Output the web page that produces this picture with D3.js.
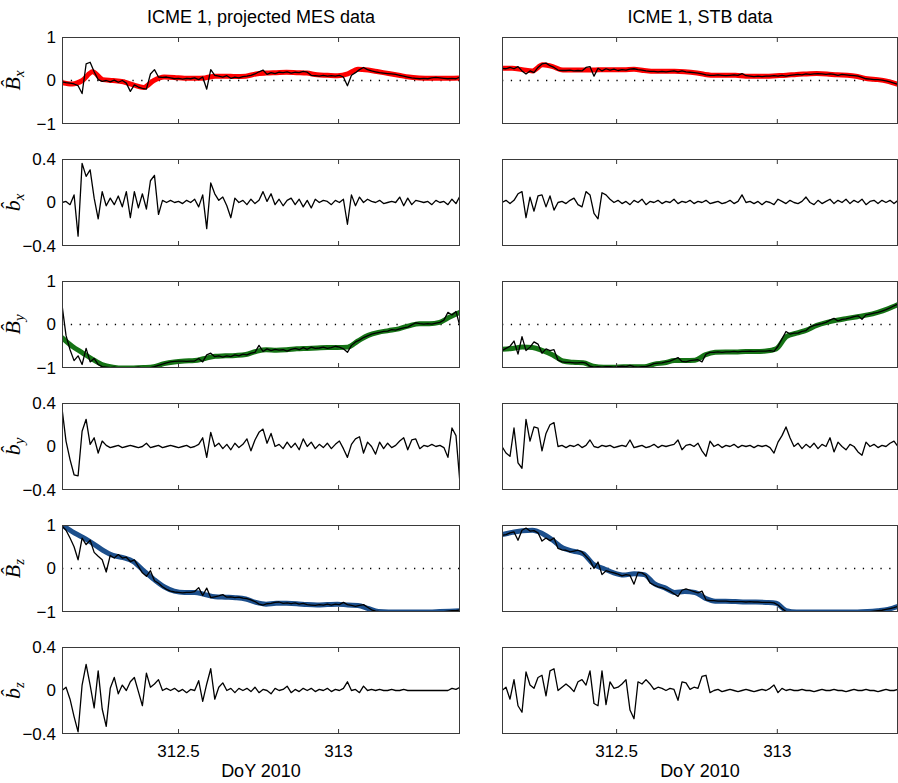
<!DOCTYPE html>
<html><head><meta charset="utf-8">
<script src="https://cdn.jsdelivr.net/npm/d3@7"></script>
<style>body{margin:0;background:#fff}svg{display:block}</style>
</head><body><svg id="c" width="898" height="783"></svg>
<script>
// ---------------- DATA ----------------
const columnTitles = ["ICME 1, projected MES data", "ICME 1, STB data"];
const xLabel = "DoY 2010";
const mesDomain = [312.1375, 313.381];
const stbDomain = [312.145, 313.377];
const xTicks = [312.5, 313];
const xTickLabels = ["312.5", "313"];
const bigTicks = [-1, 0, 1];
const bigTickLabels = ["\u22121", "0", "1"];
const smallTicks = [-0.4, 0, 0.4];
const smallTickLabels = ["\u22120.4", "0", "0.4"];
const rowSymbols = ["B","b","B","b","B","b"];
const rowSubs = ["x","x","y","y","z","z"];

const mesBx = [-0.03,-0.05,-0.06,-0.08,-0.12,-0.3,0.38,0.42,0.2,0.02,
-0.02,0.0,-0.03,0.01,-0.04,0.0,-0.06,-0.25,-0.1,-0.15,
-0.18,-0.2,0.15,0.25,0.08,0.07,0.08,0.06,0.04,0.05,
0.03,0.05,0.04,0.06,0.02,0.08,-0.2,0.25,0.12,0.1,
0.08,0.11,0.05,0.08,0.06,0.09,0.1,0.12,0.15,0.2,
0.24,0.14,0.18,0.16,0.19,0.18,0.2,0.17,0.19,0.18,
0.21,0.19,0.12,0.11,0.1,0.12,0.1,0.11,0.1,0.12,
0.08,-0.12,0.12,0.18,0.25,0.3,0.25,0.22,0.2,0.18,
0.17,0.16,0.15,0.14,0.12,0.1,0.08,0.06,0.05,0.04,
0.05,0.04,0.06,0.07,0.06,0.05,0.04,0.05,0.04,0.08];
const mesBxFit = [-0.05,-0.08,0.0,0.2,0.02,0.0,-0.03,-0.1,-0.16,0.0,
0.08,0.07,0.05,0.05,0.06,0.1,0.1,0.09,0.1,0.15,
0.17,0.18,0.19,0.18,0.17,0.13,0.12,0.11,0.15,0.26,
0.24,0.2,0.16,0.12,0.08,0.06,0.05,0.05,0.05,0.06];
const mesbx = [0.0,0.01,-0.02,0.07,-0.31,0.36,0.24,0.3,0.04,-0.15,
0.1,-0.03,0.04,-0.02,0.06,-0.04,0.1,-0.14,0.1,-0.05,
0.08,-0.06,0.2,0.25,-0.11,0.02,0.0,0.02,0.0,0.01,
-0.01,0.02,0.0,0.03,-0.04,0.07,-0.24,0.18,0.08,0.02,
0.05,-0.03,-0.14,0.04,0.0,0.02,-0.02,0.03,-0.01,0.02,
0.1,0.01,0.08,-0.02,0.03,-0.03,0.02,0.04,-0.02,0.03,
-0.04,0.02,-0.05,0.03,0.0,0.02,0.01,-0.02,0.02,0.0,
0.03,-0.2,0.07,-0.03,0.05,0.0,0.03,0.01,0.0,0.02,
-0.01,0.0,0.01,0.0,0.05,-0.03,0.04,-0.02,0.02,0.01,
0.0,0.01,-0.02,0.02,0.0,0.01,-0.02,0.03,-0.01,0.06];
const mesBy = [0.45,-0.25,-0.58,-0.83,-0.72,-0.92,-0.55,-0.86,-0.78,-0.92,
-0.97,-0.98,-0.99,-0.98,-1.0,-0.99,-0.99,-1.0,-0.99,-0.98,
-1.0,-0.99,-0.99,-0.97,-0.94,-0.91,-0.88,-0.86,-0.85,-0.84,
-0.84,-0.85,-0.84,-0.84,-0.78,-0.86,-0.7,-0.66,-0.74,-0.72,
-0.75,-0.72,-0.74,-0.7,-0.72,-0.68,-0.7,-0.66,-0.64,-0.48,
-0.62,-0.56,-0.6,-0.57,-0.59,-0.58,-0.61,-0.57,-0.55,-0.58,
-0.53,-0.57,-0.52,-0.55,-0.54,-0.52,-0.55,-0.53,-0.5,-0.52,
-0.56,-0.64,-0.48,-0.4,-0.36,-0.3,-0.26,-0.22,-0.2,-0.18,
-0.16,-0.15,-0.12,-0.13,-0.1,-0.08,-0.06,-0.01,0.04,0.02,
0.01,0.02,0.01,0.03,0.05,0.1,0.28,0.22,0.3,-0.05];
const mesByFit = [-0.3,-0.5,-0.65,-0.8,-0.93,-0.98,-1.0,-1.0,-0.99,-0.97,
-0.9,-0.86,-0.84,-0.83,-0.78,-0.73,-0.72,-0.71,-0.69,-0.62,
-0.58,-0.59,-0.58,-0.56,-0.55,-0.54,-0.53,-0.53,-0.52,-0.38,
-0.25,-0.18,-0.14,-0.1,-0.03,0.02,0.02,0.05,0.17,0.28];
const mesby = [0.35,0.05,-0.12,-0.26,-0.27,0.14,0.25,0.02,0.08,-0.06,
0.05,0.01,-0.01,0.0,0.01,-0.01,0.0,0.01,0.0,-0.01,
0.0,0.03,-0.01,0.0,0.01,-0.01,0.0,0.01,0.0,-0.01,
0.0,0.01,-0.01,0.0,0.02,0.08,-0.1,0.13,0.0,0.03,
-0.02,0.02,-0.03,0.03,-0.01,0.02,0.07,-0.04,0.06,0.13,
0.16,0.03,0.12,0.0,0.02,-0.02,0.04,-0.01,0.03,-0.03,
0.07,0.0,0.04,-0.02,0.02,-0.01,0.03,-0.02,0.02,0.05,
-0.02,-0.1,0.02,0.07,0.09,-0.06,0.04,0.0,-0.07,0.04,
-0.02,0.03,-0.01,0.01,0.05,0.08,-0.03,0.06,0.07,-0.02,
0.01,0.0,0.02,0.0,0.01,-0.01,-0.1,0.17,0.1,-0.34];
const mesBz = [0.98,0.88,0.7,0.5,0.2,0.7,0.55,0.65,0.37,0.28,
0.2,-0.08,0.3,0.24,0.32,0.24,0.26,0.16,0.2,0.05,
-0.1,-0.18,-0.05,-0.28,-0.34,-0.42,-0.48,-0.52,-0.54,-0.55,
-0.56,-0.55,-0.55,-0.53,-0.44,-0.62,-0.45,-0.67,-0.65,-0.63,
-0.6,-0.66,-0.65,-0.67,-0.66,-0.68,-0.69,-0.72,-0.76,-0.82,
-0.84,-0.81,-0.8,-0.78,-0.77,-0.8,-0.79,-0.81,-0.79,-0.82,
-0.8,-0.83,-0.84,-0.85,-0.83,-0.84,-0.82,-0.84,-0.82,-0.83,
-0.78,-0.83,-0.85,-0.87,-0.85,-0.83,-0.89,-0.95,-0.98,-0.99,
-1.0,-0.99,-1.0,-1.0,-0.99,-1.0,-1.0,-0.99,-1.0,-1.0,
-0.99,-1.0,-1.0,-0.99,-1.0,-0.99,-0.98,-0.97,-0.97,-0.95];
const mesBzFit = [1.0,0.85,0.72,0.58,0.42,0.3,0.25,0.16,-0.05,-0.25,
-0.42,-0.52,-0.55,-0.55,-0.6,-0.65,-0.66,-0.67,-0.7,-0.78,
-0.82,-0.8,-0.8,-0.81,-0.83,-0.84,-0.83,-0.82,-0.84,-0.85,
-0.92,-0.99,-1.0,-1.0,-1.0,-1.0,-1.0,-0.99,-0.98,-0.97];
const mesbz = [0.0,0.03,-0.08,-0.24,-0.38,0.05,0.24,0.05,-0.16,0.18,
-0.17,-0.33,0.02,0.12,-0.03,0.05,0.0,0.08,0.12,-0.01,
-0.14,0.16,0.03,0.06,0.1,0.0,0.02,0.0,0.02,-0.01,
0.01,-0.02,0.01,0.0,0.09,-0.1,0.06,0.2,-0.08,0.03,
0.07,0.0,0.02,-0.02,0.02,0.0,0.02,-0.01,0.03,-0.02,
0.01,0.0,-0.03,0.02,0.0,0.01,0.04,-0.02,0.01,-0.01,
0.02,0.0,0.02,-0.01,0.01,0.0,0.02,-0.01,0.01,0.0,
0.02,0.08,0.0,0.01,-0.02,0.04,0.0,0.01,0.0,0.01,
0.0,0.0,0.01,0.0,0.0,0.01,0.0,0.0,0.0,0.0,
0.0,0.0,0.0,0.0,0.0,0.0,0.0,0.02,0.01,0.03];

const stbBx = [0.28,0.27,0.3,0.27,0.32,0.22,0.15,0.22,0.18,0.3,
0.38,0.4,0.34,0.3,0.24,0.23,0.23,0.24,0.22,0.23,
0.22,0.3,0.32,0.1,0.28,0.22,0.27,0.24,0.26,0.23,
0.25,0.24,0.26,0.27,0.25,0.24,0.22,0.21,0.21,0.2,
0.21,0.2,0.21,0.22,0.2,0.22,0.2,0.19,0.18,0.17,
0.15,0.13,0.12,0.12,0.13,0.12,0.11,0.12,0.13,0.12,
0.16,0.11,0.1,0.09,0.1,0.09,0.1,0.1,0.11,0.1,
0.12,0.1,0.12,0.13,0.14,0.13,0.15,0.14,0.15,0.16,
0.15,0.14,0.15,0.14,0.12,0.14,0.13,0.12,0.11,0.1,
0.07,0.04,0.03,0.02,0.02,0.01,-0.01,-0.03,-0.06,-0.09];
const stbBxFit = [0.28,0.28,0.25,0.22,0.36,0.32,0.24,0.24,0.24,0.24,
0.25,0.25,0.25,0.26,0.23,0.21,0.21,0.21,0.2,0.18,
0.14,0.12,0.12,0.12,0.1,0.1,0.1,0.11,0.12,0.14,
0.15,0.16,0.15,0.13,0.12,0.09,0.04,0.02,-0.02,-0.09];
const stbbx = [0.0,0.02,-0.01,0.02,0.08,0.1,-0.14,0.05,-0.08,0.06,
0.07,-0.04,0.06,-0.07,0.0,0.01,-0.01,0.02,0.04,-0.02,
-0.04,0.1,0.07,-0.1,-0.15,0.09,0.07,0.03,0.0,0.02,
-0.01,0.01,-0.02,0.02,0.0,0.03,-0.02,0.01,0.0,0.02,
-0.01,0.01,0.0,0.03,-0.01,0.01,0.0,0.02,-0.01,0.01,
0.0,0.02,-0.01,0.0,0.01,-0.01,0.0,0.02,-0.01,0.01,
0.07,0.0,0.01,-0.01,0.01,-0.02,0.01,0.0,-0.02,0.03,
0.01,-0.01,0.02,0.0,-0.01,0.01,0.05,0.0,-0.02,0.02,
-0.01,0.01,0.03,-0.01,0.02,0.0,0.03,-0.01,0.02,0.0,
0.03,-0.02,0.01,0.02,-0.01,0.02,0.0,0.02,-0.01,0.02];
const stbBy = [-0.6,-0.55,-0.5,-0.38,-0.68,-0.28,-0.6,-0.52,-0.4,-0.45,
-0.66,-0.56,-0.6,-0.58,-0.82,-0.86,-0.87,-0.87,-0.88,-0.88,
-0.87,-0.89,-0.96,-0.98,-0.97,-0.98,-0.97,-0.97,-0.98,-0.97,
-0.96,-0.97,-0.94,-0.97,-0.98,-0.97,-0.97,-0.94,-0.9,-0.89,
-0.88,-0.86,-0.84,-0.8,-0.76,-0.85,-0.86,-0.83,-0.82,-0.81,
-0.86,-0.68,-0.64,-0.64,-0.63,-0.64,-0.63,-0.63,-0.62,-0.63,
-0.62,-0.62,-0.61,-0.62,-0.61,-0.61,-0.61,-0.6,-0.62,-0.5,
-0.33,-0.16,-0.22,-0.2,-0.2,-0.16,-0.14,-0.06,-0.02,0.0,
0.02,0.05,0.1,0.14,0.08,0.12,0.13,0.15,0.18,0.2,
0.12,0.22,0.24,0.26,0.28,0.31,0.34,0.38,0.43,0.47];
const stbByFit = [-0.57,-0.55,-0.52,-0.53,-0.6,-0.7,-0.84,-0.87,-0.88,-0.96,
-0.98,-0.98,-0.97,-0.97,-0.97,-0.91,-0.88,-0.83,-0.83,-0.82,
-0.7,-0.64,-0.63,-0.63,-0.62,-0.62,-0.61,-0.56,-0.28,-0.2,
-0.13,-0.02,0.05,0.1,0.14,0.18,0.22,0.28,0.36,0.46];
const stbby = [0.0,-0.06,-0.09,0.17,-0.15,-0.2,0.25,0.05,0.18,0.17,
-0.04,0.12,0.2,0.22,0.0,0.01,-0.01,0.01,0.0,0.02,
-0.01,0.01,0.06,0.0,-0.01,0.01,0.0,0.01,-0.01,0.0,
0.01,0.0,0.06,-0.01,0.0,0.01,-0.01,0.0,0.02,-0.01,
0.01,0.0,0.01,0.02,0.06,-0.03,0.01,0.02,0.0,0.03,
-0.04,-0.09,0.05,0.0,0.02,-0.01,0.01,0.0,0.02,-0.01,
0.01,0.0,0.01,-0.01,0.01,0.0,0.01,-0.01,-0.06,0.04,
0.1,0.18,0.08,0.0,0.03,-0.02,0.02,-0.01,0.03,-0.02,
0.02,0.0,0.08,-0.05,0.04,0.0,-0.03,0.02,0.0,-0.05,
-0.08,0.04,0.0,0.02,-0.01,0.01,0.0,0.03,0.05,0.0];
const stbBz = [0.76,0.78,0.82,0.84,0.65,0.88,0.93,0.86,0.87,0.82,
0.63,0.7,0.64,0.7,0.46,0.43,0.42,0.38,0.4,0.42,
0.38,0.28,0.18,0.0,0.15,-0.14,-0.05,-0.08,-0.1,-0.13,
-0.17,-0.14,-0.16,-0.36,-0.09,-0.1,-0.16,-0.33,-0.38,-0.42,
-0.44,-0.48,-0.52,-0.58,-0.64,-0.5,-0.47,-0.5,-0.53,-0.56,
-0.52,-0.72,-0.74,-0.74,-0.75,-0.75,-0.75,-0.76,-0.76,-0.76,
-0.76,-0.77,-0.76,-0.77,-0.77,-0.78,-0.78,-0.78,-0.79,-0.84,
-0.92,-0.99,-1.0,-1.0,-1.0,-1.0,-1.0,-1.0,-1.0,-1.0,
-1.0,-1.0,-1.0,-1.0,-1.0,-1.0,-1.0,-1.0,-1.0,-1.0,
-1.0,-1.0,-0.99,-0.98,-0.97,-0.96,-0.94,-0.92,-0.9,-0.87];
const stbBzFit = [0.78,0.83,0.87,0.88,0.8,0.65,0.47,0.4,0.34,0.1,
0.0,-0.1,-0.15,-0.12,-0.14,-0.35,-0.44,-0.55,-0.53,-0.55,
-0.68,-0.75,-0.75,-0.76,-0.77,-0.77,-0.78,-0.8,-0.97,-1.0,
-1.0,-1.0,-1.0,-1.0,-1.0,-1.0,-0.99,-0.97,-0.94,-0.87];
const stbbz = [0.0,0.03,-0.08,0.1,-0.14,-0.2,0.17,0.05,0.02,0.12,
0.14,-0.05,0.18,0.2,0.0,0.03,0.06,0.03,-0.01,0.08,
0.1,0.05,0.18,-0.12,-0.14,0.18,-0.13,0.08,0.02,0.03,
0.06,0.1,-0.18,-0.26,0.08,0.06,0.1,0.06,0.01,0.03,
0.02,0.0,0.02,0.01,-0.09,0.08,0.07,0.01,0.03,0.02,
0.13,0.14,-0.02,0.0,0.01,-0.01,0.0,0.01,0.0,-0.01,
0.0,0.01,0.0,-0.01,0.0,0.01,0.0,0.02,0.05,-0.02,
0.02,0.0,0.01,0.0,0.0,0.01,0.0,0.0,-0.01,0.0,
0.01,0.0,0.0,0.01,0.0,0.0,-0.01,0.0,0.01,0.0,
0.0,0.01,0.0,0.0,-0.01,0.0,0.01,0.0,0.0,0.01];

// ---------------- LAYOUT ----------------
const svg = d3.select("#c");
const PH = 87, rowStep = 122, firstTop = 37;
const fitColors = ["#ff0000", null, "#157315", null, "#1c4f8c", null];
const columns = [
  {x0: 62, x1: 460, domain: mesDomain, title: columnTitles[0],
   series: [mesBx, mesbx, mesBy, mesby, mesBz, mesbz],
   fits: [mesBxFit, null, mesByFit, null, mesBzFit, null], yLabels: true},
  {x0: 502, x1: 898, domain: stbDomain, title: columnTitles[1],
   series: [stbBx, stbbx, stbBy, stbby, stbBz, stbbz],
   fits: [stbBxFit, null, stbByFit, null, stbBzFit, null], yLabels: false}
];
const sansFont = "'Liberation Sans', Arial, Helvetica, sans-serif";
const toPts = (arr, dom) => arr.map((v, i) => [dom[0] + (dom[1] - dom[0]) * i / (arr.length - 1), v]);

columns.forEach((col, ci) => {
  const x = d3.scaleLinear().domain(col.domain).range([col.x0, col.x1]);
  svg.append("text").attr("x", (col.x0 + col.x1) / 2).attr("y", 23)
    .attr("text-anchor", "middle").style("font-family", sansFont).style("font-size", "18px")
    .text(col.title);

  for (let r = 0; r < 6; r++) {
    const top = firstTop + rowStep * r, bot = top + PH;
    const big = r % 2 === 0;
    const y = d3.scaleLinear().domain(big ? [-1, 1] : [-0.4, 0.4]).range([bot, top]);
    const clipId = `clip${ci}_${r}`;
    svg.append("clipPath").attr("id", clipId).append("rect")
      .attr("x", col.x0).attr("y", top).attr("width", col.x1 - col.x0).attr("height", PH);
    const g = svg.append("g").attr("clip-path", `url(#${clipId})`);

    if (big) {
      g.append("line").attr("x1", col.x0).attr("x2", col.x1).attr("y1", y(0)).attr("y2", y(0))
        .attr("stroke", "#000").attr("stroke-width", 1.3).attr("stroke-dasharray", "1.3,7.5");
    }
    const line = d3.line().x(d => x(d[0])).y(d => y(d[1]));
    if (col.fits[r]) {
      g.append("path").datum(toPts(col.fits[r], col.domain))
        .attr("d", line.curve(d3.curveMonotoneX)).attr("fill", "none")
        .attr("stroke", fitColors[r]).attr("stroke-width", 5).attr("stroke-linejoin", "round").attr("stroke-linecap", "round");
    }
    g.append("path").datum(toPts(col.series[r], col.domain))
      .attr("d", d3.line().x(d => x(d[0])).y(d => y(d[1])))
      .attr("fill", "none").attr("stroke", "#000").attr("stroke-width", 1.3).attr("stroke-linejoin", "round");

    // frame
    svg.append("rect").attr("x", col.x0 + 0.5).attr("y", top + 0.5)
      .attr("width", col.x1 - col.x0 - 1).attr("height", PH - 1)
      .attr("fill", "none").attr("stroke", "#3a3a3a").attr("stroke-width", 1);

    // x axes (inward ticks)
    const last = r === 5;
    const ab = svg.append("g").attr("transform", `translate(0,${bot})`)
      .call(d3.axisBottom(x).tickValues(xTicks).tickSize(-5).tickPadding(11)
        .tickFormat((d, i) => last ? xTickLabels[i] : ""));
    const at = svg.append("g").attr("transform", `translate(0,${top})`)
      .call(d3.axisTop(x).tickValues(xTicks).tickSize(-5).tickFormat(""));
    [ab, at].forEach(a => {
      a.select(".domain").remove();
      a.selectAll(".tick line").attr("stroke", "#3a3a3a");
      a.selectAll("text").style("font-family", sansFont).style("font-size", "17px").attr("fill", "#000");
    });

    if (col.yLabels) {
      const al = svg.append("g").attr("transform", `translate(${col.x0},0)`)
        .call(d3.axisLeft(y).tickValues(big ? bigTicks : smallTicks).tickSize(0).tickPadding(6)
          .tickFormat((d, i) => (big ? bigTickLabels : smallTickLabels)[i]));
      al.select(".domain").remove();
      al.selectAll("text").style("font-family", sansFont).style("font-size", "17px").attr("fill", "#000");

      const lab = svg.append("text")
        .attr("transform", `translate(20,${(top + bot) / 2}) rotate(-90)`)
        .attr("text-anchor", "middle")
        .style("font-family", "'Liberation Serif','DejaVu Serif',serif")
        .style("font-style", "italic").style("font-size", "22px");
      lab.append("tspan").text(rowSymbols[r] + "\u0302");
      lab.append("tspan").attr("dy", 4).style("font-size", "15px").text(rowSubs[r]);
    }
    if (last) {
      svg.append("text").attr("x", (col.x0 + col.x1) / 2).attr("y", 777)
        .attr("text-anchor", "middle").style("font-family", sansFont).style("font-size", "18px")
        .text(xLabel);
    }
  }
});
</script>
</body></html>
